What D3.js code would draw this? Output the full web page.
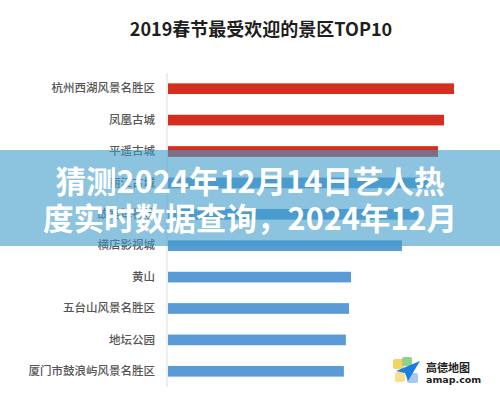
<!DOCTYPE html>
<html>
<head>
<meta charset="utf-8">
<script src="https://cdn.jsdelivr.net/npm/d3@7"></script>
<style>
  html, body { margin: 0; padding: 0; background: #fff; }
  svg { display: block; }
</style>
</head>
<body>
<script>
// data
const title = "2019春节最受欢迎的景区TOP10";
const spots = ["杭州西湖风景名胜区", "凤凰古城", "平遥古城", "丽江古城", "故宫博物院",
               "横店影视城", "黄山", "五台山风景名胜区", "地坛公园", "厦门市鼓浪屿风景名胜区"];
const heat = [100, 96.5, 94.4, 91.6, 87.4, 81.8, 64.0, 63.3, 62.2, 61.5];
const topN = 3;
const bannerLines = ["猜测2024年12月14日艺人热", "度实时数据查询，2024年12月"];
const brand = ["高德地图", "amap.com"];

const W = 500, H = 397;
const cjk = "'Noto Sans CJK SC', 'Noto Sans', sans-serif";

const svg = d3.select("body").append("svg")
  .attr("width", W)
  .attr("height", H);

svg.append("rect").attr("width", W).attr("height", H).attr("fill", "#fff");

// title
svg.append("text")
  .attr("x", 261)
  .attr("y", 36)
  .attr("text-anchor", "middle")
  .attr("font-family", cjk)
  .attr("font-size", 18)
  .attr("font-weight", 600)
  .attr("fill", "#1e1e1e")
  .text(title);

const x = d3.scaleLinear().domain([0, 100]).range([168, 454]);
const y = d3.scaleBand().domain(spots).range([73, 387])
  .paddingInner(0.66).paddingOuter(0.33);

// baseline axis
svg.append("line")
  .attr("x1", 167).attr("x2", 167)
  .attr("y1", 73).attr("y2", 387)
  .attr("stroke", "#e2e2e2")
  .attr("stroke-width", 1.2);

// bars
svg.append("g").selectAll("rect")
  .data(spots)
  .join("rect")
    .attr("x", x(0))
    .attr("y", d => y(d))
    .attr("width", (d, i) => x(heat[i]) - x(0))
    .attr("height", y.bandwidth())
    .attr("fill", (d, i) => i < topN ? "#d42e1e" : "#5b9bd5");

// category labels
const yAxis = svg.append("g")
  .attr("transform", "translate(167,0)")
  .call(d3.axisLeft(y).tickSize(0).tickPadding(12));
yAxis.select(".domain").remove();
yAxis.selectAll("text")
  .attr("font-family", cjk)
  .attr("font-size", 11.5)
  .attr("font-weight", 500)
  .attr("fill", "#555");

// amap watermark
const logo = svg.append("g").attr("transform", "translate(393,357)");
logo.append("rect").attr("x", 0).attr("y", 2).attr("width", 11).attr("height", 10).attr("rx", 2).attr("fill", "#f4d35e");
logo.append("rect").attr("x", 9).attr("y", 0).attr("width", 10).attr("height", 9).attr("rx", 2).attr("fill", "#8fd08a");
logo.append("rect").attr("x", 2).attr("y", 15).attr("width", 10).attr("height", 10).attr("rx", 2).attr("fill", "#f6e08a");
logo.append("rect").attr("x", 14).attr("y", 16).attr("width", 11).attr("height", 10).attr("rx", 2).attr("fill", "#a9c8ee");
logo.append("path")
  .attr("d", "M27,4 L3,14 L12,16 L15,24 Z")
  .attr("fill", "#1a7fe0");

svg.append("text")
  .attr("x", 426).attr("y", 372)
  .attr("font-family", cjk)
  .attr("font-size", 11)
  .attr("font-weight", "bold")
  .attr("fill", "#222")
  .text(brand[0]);
svg.append("text")
  .attr("x", 426).attr("y", 382.5)
  .attr("font-family", "'DejaVu Sans', sans-serif")
  .attr("font-size", 9.5)
  .attr("font-weight", "bold")
  .attr("fill", "#222")
  .text(brand[1]);

// translucent banner
svg.append("rect")
  .attr("x", 0).attr("y", 150)
  .attr("width", W).attr("height", 96)
  .attr("fill", "rgb(63,155,202)")
  .attr("fill-opacity", 0.6);

svg.append("g").selectAll("text")
  .data(bannerLines)
  .join("text")
    .attr("x", W / 2)
    .attr("y", (d, i) => 193 + i * 37)
    .attr("text-anchor", "middle")
    .attr("font-family", cjk)
    .attr("font-size", 30.6)
    .attr("font-weight", "bold")
    .attr("fill", "#fff")
    .text(d => d);
</script>
</body>
</html>
